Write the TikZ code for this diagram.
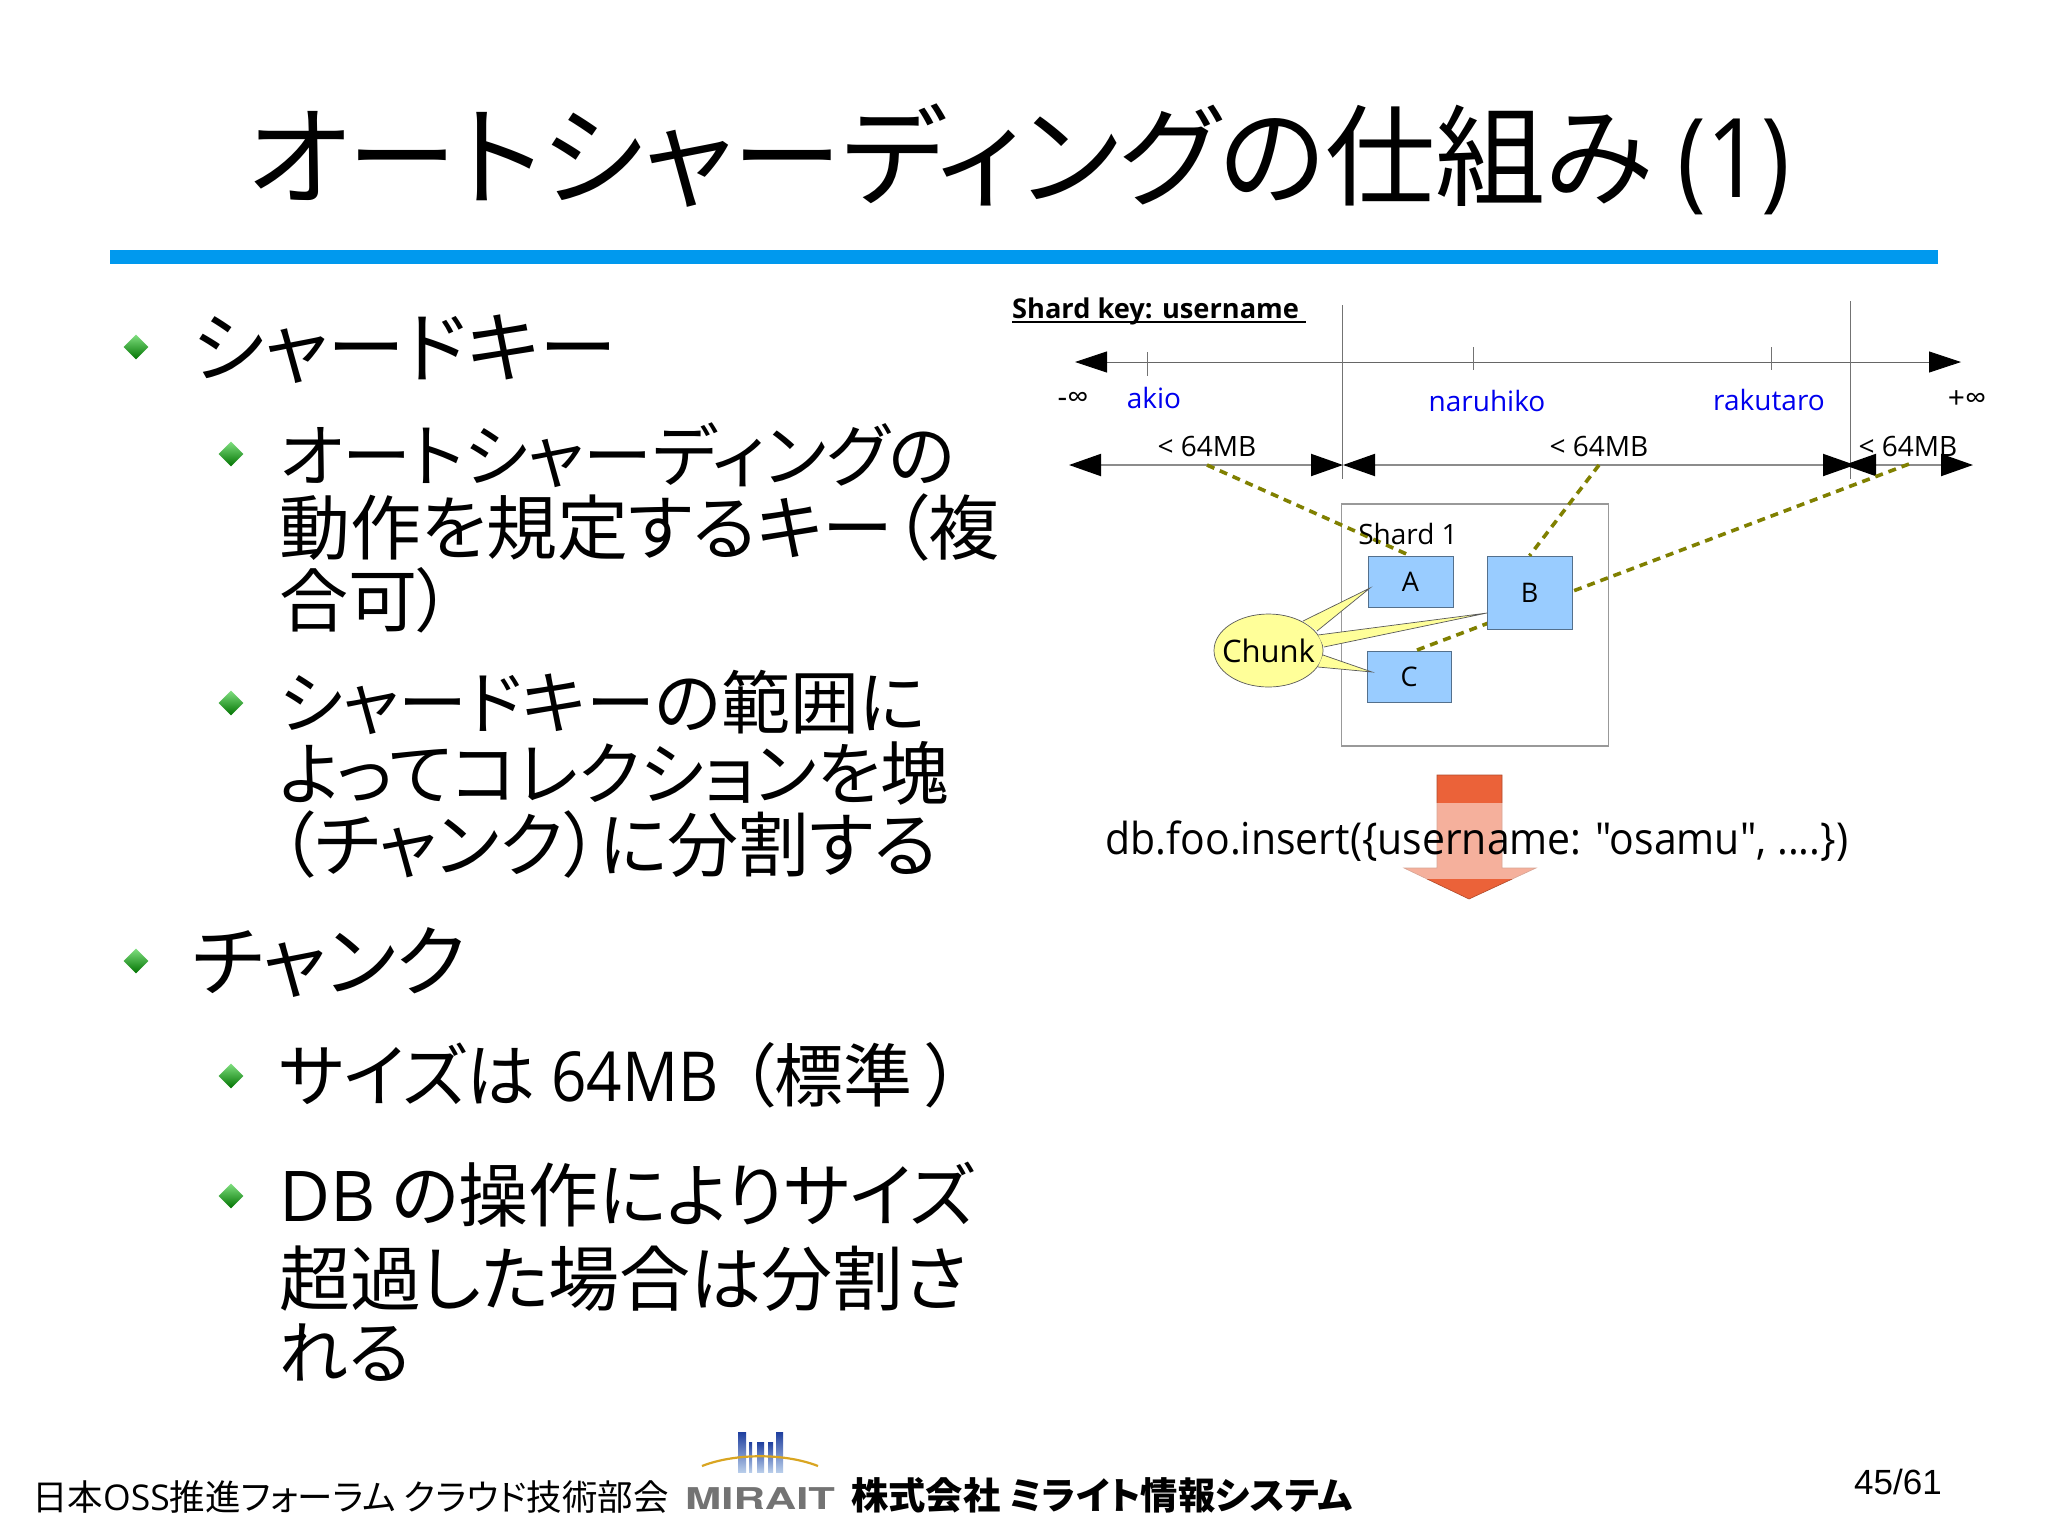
\documentclass[tikz,border=0pt]{standalone}
\usepackage{fontspec}
\usetikzlibrary{arrows.meta,shapes.geometric}

\setmainfont{Noto Sans CJK JP}[RawFeature=+palt]
\newfontfamily\ltn{Open Sans}
\newfontfamily\arl{Liberation Sans}
\newfontfamily\hvb{TeX Gyre Heros}

\definecolor{rulecol}{HTML}{0099EE}
\definecolor{keyblue}{HTML}{0000EE}
\definecolor{chunkcol}{HTML}{99CCFF}
\definecolor{noteyel}{HTML}{FFFF99}
\definecolor{olivecol}{HTML}{808000}
\definecolor{downcol}{HTML}{EB6239}
\definecolor{logoblue}{HTML}{1F3F9F}
\definecolor{logopale}{HTML}{B8CDEA}
\definecolor{logogold}{HTML}{D9A521}

\newcommand{\fsz}[1]{\fontsize{#1}{#1}\selectfont}

\tikzset{
  lvlone/.style={anchor=base west,inner sep=0,font=\fsz{78}},
  lvltwo/.style={anchor=base west,inner sep=0,font=\fsz{69}},
  lvlwide/.style={lvltwo,font=\fsz{71}},
  gem/.style={diamond,inner sep=0,minimum size=25,top color=green!75!black!50,bottom color=green!45!black},
  smalltext/.style={inner sep=0,font=\ltn\fsz{28}},
  keyname/.style={smalltext,text=keyblue},
  chunkbox/.style={draw=chunkcol!55!black,fill=chunkcol,inner sep=0,font=\ltn\fsz{27}},
  axisline/.style={draw=black!60,line width=0.9,<->,>={Triangle[length=32pt,width=21pt,color=black]}},
  spanline/.style={draw=black!45,line width=2,<->,>={Triangle[length=32pt,width=22pt,color=black]}},
  tickline/.style={draw=black!55,line width=0.9},
  ownerline/.style={draw=olivecol,line width=3.6,dash pattern=on 8pt off 6pt},
  tailline/.style={draw=black!65,line width=0.7},
  logobar/.style={top color=logoblue,bottom color=logopale},
}

\begin{document}
\begin{tikzpicture}[x=1pt,y=-1pt]

\useasboundingbox (0,0) rectangle (2048,1535);
\fill[white] (0,0) rectangle (2048,1535);

% title
\node[anchor=base west,inner sep=0,font=\fsz{110}] (title) at (247,197) {オートシャーディングの仕組み {\ltn\scalebox{0.88}[1]{(1)}}};
\fill[rulecol] (110,250) rectangle (1938,264);

% left column
\node[gem] (b1) at (136,347) {};
\node[lvlone] (t1) at (192,376) {シャードキー};
\node[gem] (b2) at (231,454) {};
\node[lvltwo] (t2a) at (279,481) {オートシャーディングの};
\node[lvlwide] (t2b) at (279,554) {動作を規定するキー（複};
\node[lvltwo] (t2c) at (279,626) {合可）};
\node[gem] (b3) at (231,703) {};
\node[lvltwo] (t3a) at (279,728) {シャードキーの範囲に};
\node[lvltwo] (t3b) at (279,799) {よってコレクションを塊};
\node[lvlwide] (t3c) at (279,871) {（チャンク）に分割する};
\node[gem] (b4) at (136,961) {};
\node[lvlone] (t4) at (192,990) {チャンク};
\node[gem] (b5) at (231,1076) {};
\node[lvltwo] (t5) at (279,1101) {サイズは {\ltn\scalebox{0.9}[1]{64MB}} \hspace{6pt}（標準\hspace{14pt}）};
\node[gem] (b6) at (231,1196) {};
\node[lvltwo,font=\fsz{70}] (t6a) at (279,1221) {{\ltn DB} の操作によりサイズ};
\node[lvlwide] (t6b) at (279,1305) {超過した場合は分割さ};
\node[lvltwo] (t6c) at (279,1378) {れる};

% key axis
\node[anchor=base west,inner sep=0,font=\ltn\bfseries\fsz{27.2}] (keytitle) at (1012,318) {Shard key: username};
\draw[line width=2] (1012,322) -- (1306,322);
\coordinate (axisL) at (1075,362);
\coordinate (axisR) at (1961,362);
\draw[axisline] (axisL) -- (axisR);
\draw[tickline] (1342,305) -- (1342,479);
\draw[tickline] (1850,301) -- (1850,479);
\draw[tickline] (1147,352) -- (1147,376);
\draw[tickline] (1473,347) -- (1473,370);
\draw[tickline] (1771,347) -- (1771,370);

\node[smalltext,font=\ltn\fsz{30}] (minf) at (1073,400) {-∞};
\node[keyname] (akio) at (1154,398) {akio};
\node[keyname] (naruhiko) at (1487,401) {naruhiko};
\node[keyname] (rakutaro) at (1769,400) {rakutaro};
\node[smalltext,font=\ltn\fsz{30}] (pinf) at (1967,400) {+∞};

% chunk size ranges
\coordinate (spanA) at (1069,465);
\coordinate (spanB) at (1343,465);
\coordinate (spanC) at (1855,465);
\coordinate (spanD) at (1844,465);
\coordinate (spanE) at (1973,465);
\draw[spanline] (spanA) -- (spanB);
\draw[spanline] (spanB) -- (spanC);
\draw[spanline] (spanD) -- (spanE);
\node[smalltext] (sizeA) at (1207,446) {< 64MB};
\node[smalltext] (sizeB) at (1599,446) {< 64MB};
\node[smalltext] (sizeC) at (1908,446) {< 64MB};
\coordinate (ownA) at (1207,465);
\coordinate (ownB) at (1599,465);
\coordinate (ownC) at (1909,464);

% shard
\node[draw=black!40,line width=1.2,minimum width=267,minimum height=242,inner sep=0] (shard) at (1475,625) {};
\node[chunkbox,minimum width=85,minimum height=51] (A) at (1410.5,581.5) {A};
\node[chunkbox,minimum width=84,minimum height=51] (C) at (1409,676.5) {C};
\draw[ownerline] (ownA) -- (A.north);
\draw[ownerline] (ownC) -- ([xshift=6]C.north);
\node[chunkbox,minimum width=85,minimum height=73] (B) at (1529.5,592.5) {B};
\draw[ownerline] (ownB) -- (B.north);
\node[smalltext] (shardname) at (1408,534) {Shard 1};

% chunk note
\draw[draw=black!65,line width=0.7,fill=noteyel] (1268.5,650.5) ellipse [x radius=54.5,y radius=36.5];
\foreach \pa/\tip/\pb in {{1303,621}/{1370,588}/{1317,631},{1318,635}/{1487,613}/{1324,647},{1323,655}/{1372,672}/{1318,667}} {
  \fill[noteyel] (\pa) -- (\tip) -- (\pb) -- cycle;
  \draw[tailline] (\pa) -- (\tip) -- (\pb);
}
\node[inner sep=0,font=\ltn\fsz{31}] (note) at (1268.5,651) {Chunk};

% insert arrow
\draw[fill=downcol,draw=downcol!75!black,line width=0.6] (1437,775) -- (1502,775) -- (1502,868) -- (1536,868) -- (1469,899) -- (1404,868) -- (1437,868) -- cycle;
\node[fill=white,fill opacity=0.5,text opacity=1,minimum height=76,inner sep=0,font=\ltn\fsz{44}] (insert) at (1477,841) {\scalebox{0.93}[1]{db.foo.insert(\{username: "osamu", ....\})}};

% footer
\node[anchor=base west,inner sep=0,font=\fsz{35.5}] (forum) at (32,1510) {日本{\ltn OSS}推進フォーラム クラウド技術部会};
\foreach \bxa/\bxb/\btop in {738/746/1432,749/752/1442,757/764/1442,768/773/1442,776/783/1432} {
  \shade[logobar] (\bxa,\btop) rectangle (\bxb,1472);
}
\draw[draw=logogold,line width=2.2] (702,1466) .. controls (735,1453) and (785,1453) .. (818,1466);
\node[anchor=base west,inner sep=0,text=black!55,font=\hvb\bfseries\fsz{30}] (mirait) at (685,1509) {\scalebox{1.45}[1]{MIRAIT}};
\node[anchor=base west,inner sep=0,font=\bfseries\fsz{37.3}] (company) at (851,1509) {株式会社 ミライト情報システム};
\node[anchor=base east,inner sep=0,font=\arl\fsz{35}] (page) at (1942,1494) {45/61};

\end{tikzpicture}
\end{document}
